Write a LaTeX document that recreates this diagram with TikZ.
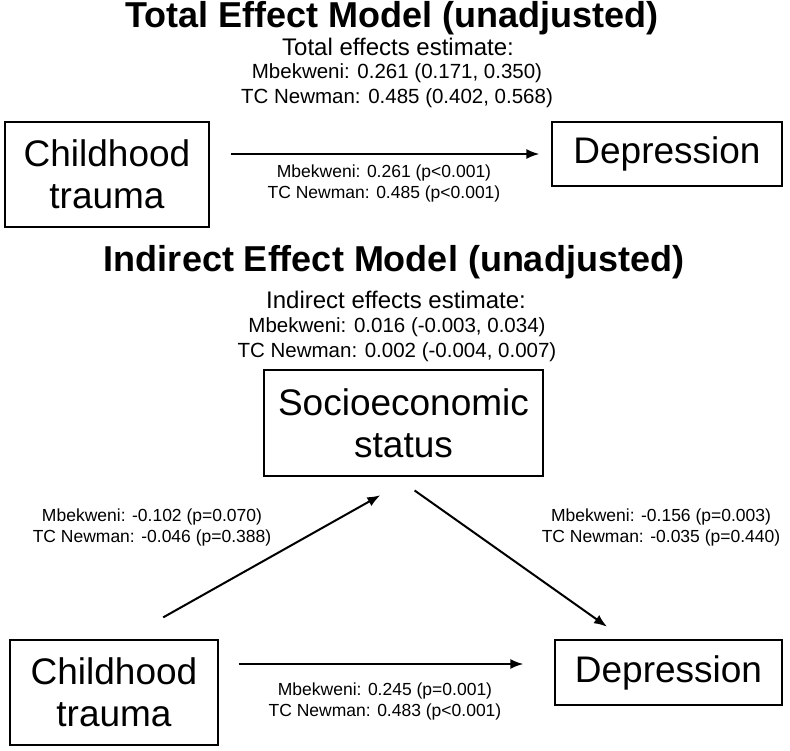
\documentclass[tikz,border=0pt]{standalone}
\usepackage{fontspec}
\setmainfont{Liberation Sans}
\usetikzlibrary{calc,arrows.meta}

\begin{document}
\begin{tikzpicture}[x=1pt,y=-1pt,
  heading/.style={font=\fontsize{36}{40}\selectfont\bfseries},
  sub/.style={font=\fontsize{24}{28}\selectfont},
  est/.style={font=\fontsize{20.5}{25}\selectfont, align=center},
  box/.style={draw, line width=1.2pt, align=center, inner sep=0pt,
    font=\fontsize{37}{42}\selectfont},
  coef/.style={font=\fontsize{17.5}{21}\selectfont, align=center},
  effect/.style={line width=2pt, -{Latex[length=13pt,width=10pt]}}]
  \useasboundingbox (0,0) rectangle (790,750);
  % total effect model
  \node[heading] (ttl1) at (392,18) {Total Effect Model (unadjusted)};
  \node[sub] (tot) at (398,47) {Total effects estimate:};
  \node[est] (totci) at (397,85.5)
    {Mbekweni: 0.261 (0.171, 0.350)\\TC Newman: 0.485 (0.402, 0.568)};
  \node[box, minimum width=204, minimum height=105] (ct1) at (107,174.5)
    {Childhood\\trauma};
  \node[box, minimum width=230, minimum height=64] (dep1) at (667,154)
    {Depression};
  \draw[effect, shorten <=21pt, shorten >=12pt] (ct1.east |- dep1.west) -- (dep1.west);
  \node[coef] (c1) at (384,183)
    {Mbekweni: 0.261 (p<0.001)\\TC Newman: 0.485 (p<0.001)};
  % indirect effect model
  \node[heading] (ttl2) at (394,262) {Indirect Effect Model (unadjusted)};
  \node[sub] (ind) at (396,300) {Indirect effects estimate:};
  \node[est] (indci) at (397,339.5)
    {Mbekweni: 0.016 (-0.003, 0.034)\\TC Newman: 0.002 (-0.004, 0.007)};
  \node[box, minimum width=279, minimum height=106] (ses) at (403.5,423)
    {Socioeconomic\\status};
  \node[box, minimum width=208, minimum height=105] (ct2) at (114,692.5)
    {Childhood\\trauma};
  \node[box, minimum width=227, minimum height=65] (dep2) at (668.5,672.5)
    {Depression};
  \draw[effect, shorten <=45pt, shorten >=38pt]
    ($(ct2.north)+(10,0)$) -- ($(ses.south)+(10,0)$);
  \draw[effect, shorten <=24pt, shorten >=22pt]
    ($(ses.south)+(-8.5,0)$) -- ($(dep2.north)+(-43.5,0)$);
  \draw[effect, shorten <=20pt, shorten >=31pt]
    ($(ct2.east |- dep2.west)+(0,-8.5)$) -- ($(dep2.west)+(0,-8.5)$);
  \node[coef] (c2) at (152,527.5)
    {Mbekweni: -0.102 (p=0.070)\\TC Newman: -0.046 (p=0.388)};
  \node[coef] (c3) at (661,527.5)
    {Mbekweni: -0.156 (p=0.003)\\TC Newman: -0.035 (p=0.440)};
  \node[coef] (c4) at (385,701)
    {Mbekweni: 0.245 (p=0.001)\\TC Newman: 0.483 (p<0.001)};
\end{tikzpicture}
\end{document}
